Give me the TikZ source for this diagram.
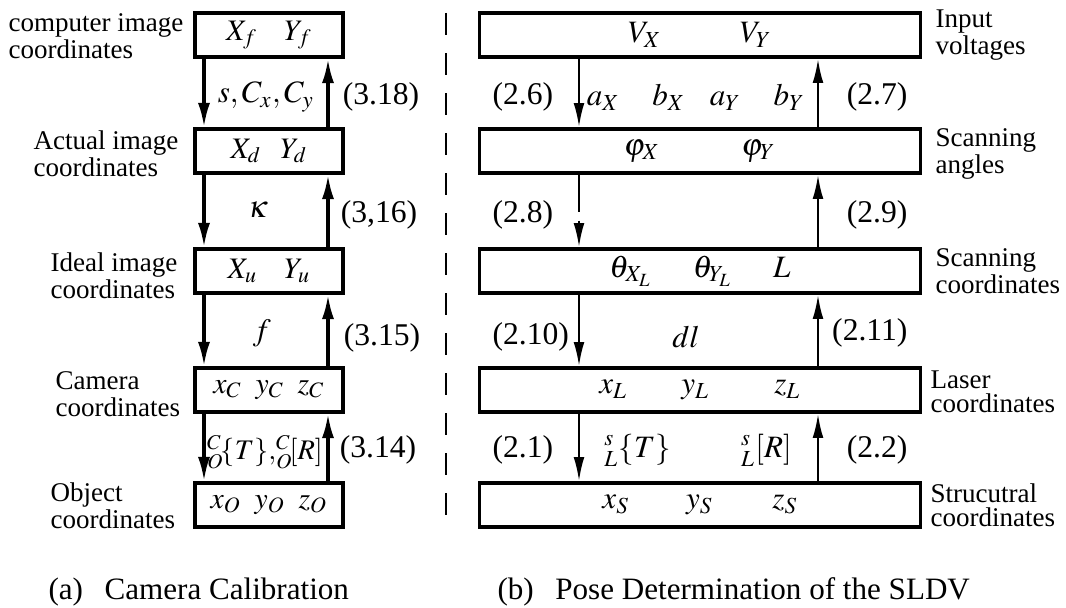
\documentclass[tikz,border=0pt]{standalone}
\usepackage{mathptmx}
\usepackage{fontspec}
\setmainfont{Liberation Serif}
\usetikzlibrary{arrows.meta}
\newcommand{\px}{0.013cm}
\tikzset{
  lbox/.style={draw, line width=1.4pt, inner sep=0pt, minimum width=148*\px, minimum height=44*\px, font=\fontsize{11}{12}\selectfont},
  rbox/.style={draw, line width=1.2pt, inner sep=0pt, minimum width=441*\px, minimum height=44*\px, font=\fontsize{11.5}{12}\selectfont},
  lname/.style={anchor=west, align=left, inner sep=0pt, font=\fontsize{10}{10}\selectfont},
  rname/.style={anchor=west, align=left, inner sep=0pt, font=\fontsize{10}{9}\selectfont},
  eqno/.style={inner sep=0pt, font=\fontsize{11.7}{12}\selectfont},
  trans/.style={inner sep=0pt, font=\fontsize{11.5}{12}\selectfont},
  capt/.style={anchor=west, inner sep=0pt, font=\fontsize{11.5}{12}\selectfont},
  larr/.style={line width=1.2pt, -{Latex[length=9pt,width=4.5pt]}},
  rarr/.style={line width=0.9pt, -{Latex[length=9pt,width=4pt]}}
}
\begin{document}
\begin{tikzpicture}[x=\px, y=-\px]
  \useasboundingbox (0,0) rectangle (1066,608);
  % (a) camera calibration
  \node[lbox] (lf) at (269,35) {$X_f\hspace{10pt}Y_f$};
  \node[lbox] (ld) at (269,151) {$X_d\hspace{7pt}Y_d$};
  \node[lbox] (lu) at (269,271) {$X_u\hspace{10pt}Y_u$};
  \node[lbox] (lc) at (269,390) {$x_C\hspace{5pt}y_C\hspace{5pt}z_C$};
  \node[lbox] (lo) at (269,505) {$x_O\hspace{5pt}y_O\hspace{5pt}z_O$};
  \node[lname] (nf) at (8,36) {computer image\\coordinates};
  \node[lname] (nd) at (33,154) {Actual image\\coordinates};
  \node[lname] (nu) at (50,276) {Ideal image\\coordinates};
  \node[lname] (nc) at (55,394) {Camera\\coordinates};
  \node[lname] (no) at (50,506) {Object\\coordinates};
  \coordinate (ldn) at (204,0);
  \coordinate (lup) at (328,0);
  \foreach \a/\b in {lf/ld, ld/lu, lu/lc, lc/lo} {
    \draw[larr] (\a.south -| ldn) -- (\b.north -| ldn);
    \draw[larr] (\b.north -| lup) -- (\a.south -| lup);
  }
  \node[trans] (tf) at (266,97) {$s, C_x, C_y$};
  \node[trans] (td) at (258,210) {$\kappa$};
  \node[trans] (tu) at (262,333) {$f$};
  \node[trans, font=\fontsize{10.5}{11}\selectfont] (tc) at (265,452) {${}^{C}_{O}\!\{T\},\!{}^{C}_{O}\![R]$};
  \node[eqno] (e318) at (381,97) {(3.18)};
  \node[eqno] (e316) at (379,215) {(3,16)};
  \node[eqno] (e315) at (382,338) {(3.15)};
  \node[eqno] (e314) at (378,450) {(3.14)};
  \node[capt] (capa) at (48,592) {(a)\hspace{8pt}Camera Calibration};
  % separator
  \draw[line width=1.1pt, dash pattern=on 8.1pt off 6.7pt] (446,13) -- (446,530);
  % (b) pose determination
  \node[rbox] (rv) at (700,35) {$V_X\hspace{29pt}V_Y$};
  \node[rbox] (ra) at (700,151) {$\varphi_X\hspace{30pt}\varphi_Y$};
  \node[rbox] (rs) at (700,271) {$\theta_{X_L}\hspace{15pt}\theta_{Y_L}\hspace{15pt}L$};
  \node[rbox] (rl) at (700,390) {$x_L\hspace{20pt}y_L\hspace{24pt}z_L$};
  \node[rbox] (rt) at (700,505) {$x_S\hspace{21pt}y_S\hspace{22pt}z_S$};
  \node[rname] (nv) at (935,35) {Input\\voltages};
  \node[rname] (na) at (935,154) {Scanning\\angles};
  \node[rname] (ns) at (935,271) {Scanning\\coordinates};
  \node[rname] (nl) at (930,392) {Laser\\coordinates};
  \node[rname] (nt) at (930,505) {Strucutral\\coordinates};
  \coordinate (rdn) at (579,0);
  \coordinate (rup) at (818,0);
  \draw[rarr] (rv.south -| rdn) -- (ra.north -| rdn);
  \draw[rarr, dash pattern=on 14pt off 3pt] (ra.south -| rdn) -- (rs.north -| rdn);
  \draw[rarr] (rs.south -| rdn) -- (rl.north -| rdn);
  \draw[rarr] (rl.south -| rdn) -- (rt.north -| rdn);
  \foreach \a/\b in {rv/ra, ra/rs, rs/rl, rl/rt}
    \draw[rarr] (\b.north -| rup) -- (\a.south -| rup);
  \node[trans] (tv) at (696,97) {$a_X\hspace{12pt}b_X\hspace{9pt}a_Y\hspace{12pt}b_Y$};
  \node[trans] (ts) at (686,337) {$dl$};
  \node[trans] (tl) at (698,450) {${}^{s}_{L}\{T\}\hspace{26pt}{}^{s}_{L}[R]$};
  \node[eqno, anchor=west] (e26) at (492,97) {(2.6)};
  \node[eqno, anchor=west] (e28) at (492,215) {(2.8)};
  \node[eqno, anchor=west] (e210) at (492,337) {(2.10)};
  \node[eqno, anchor=west] (e21) at (492,450) {(2.1)};
  \node[eqno, anchor=east] (e27) at (908,97) {(2.7)};
  \node[eqno, anchor=east] (e29) at (908,215) {(2.9)};
  \node[eqno, anchor=east] (e211) at (908,333) {(2.11)};
  \node[eqno, anchor=east] (e22) at (908,450) {(2.2)};
  \node[capt] (capb) at (497,592) {(b)\hspace{8pt}Pose Determination of the SLDV};
\end{tikzpicture}
\end{document}
